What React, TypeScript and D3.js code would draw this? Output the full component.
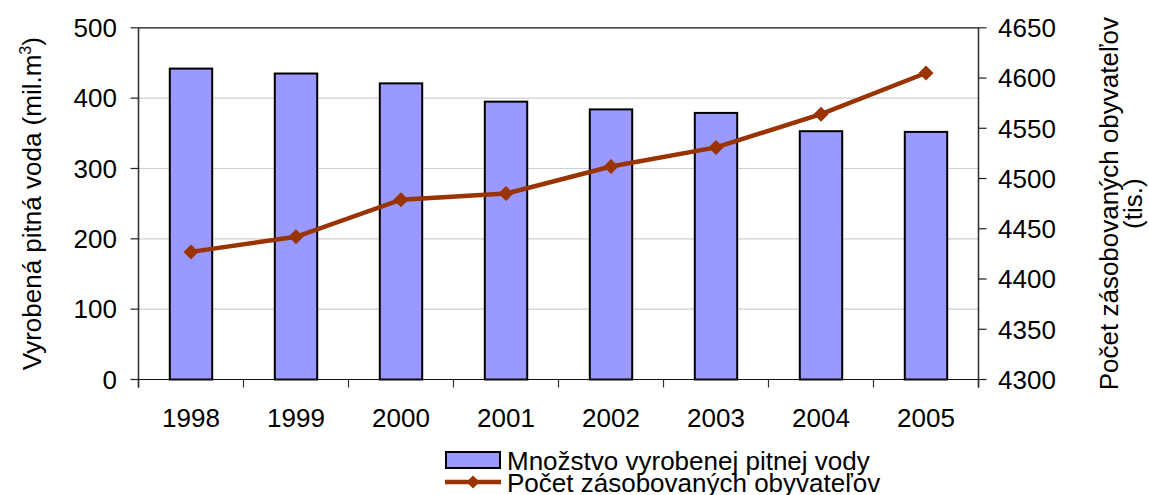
import React from "react";
import * as d3 from "d3";

const years = ["1998", "1999", "2000", "2001", "2002", "2003", "2004", "2005"];
const waterVolume = [442, 435, 421, 395, 384, 379, 353, 352];
const population = [4427, 4442, 4479, 4485, 4512, 4531, 4564, 4605];
const leftTicks = [0, 100, 200, 300, 400, 500];
const rightTicks = [4300, 4350, 4400, 4450, 4500, 4550, 4600, 4650];

const width = 1149;
const height = 495;
const font = "'Liberation Sans', Arial, sans-serif";
const fs = 26;

const plot = { left: 138.5, right: 978.5, top: 27.8, bottom: 379.5 };

const App = () => {
  const x = d3
    .scaleBand()
    .domain(years)
    .range([plot.left, plot.right])
    .paddingInner(0.596)
    .paddingOuter(0.298);
  const yLeft = d3.scaleLinear().domain([0, 500]).range([plot.bottom, plot.top]);
  const yRight = d3.scaleLinear().domain([4300, 4650]).range([plot.bottom, plot.top]);

  const cx = (d: string) => (x(d) as number) + x.bandwidth() / 2;

  const line = d3
    .line<number>()
    .x((d, i) => cx(years[i]))
    .y((d) => yRight(d));

  const diamond = (px: number, py: number, r = 7.5) =>
    `M${px},${py - r}L${px + r},${py}L${px},${py + r}L${px - r},${py}Z`;

  const step = x.step();
  const boundaries = d3.range(years.length + 1).map((i) => plot.left + i * step);
  const midY = (plot.top + plot.bottom) / 2;
  const digitMid = fs * 0.358;

  return (
    <svg
      width={width}
      height={height}
      style={{ position: "absolute", left: 0, top: 0, background: "#fff" }}
      fontFamily={font}
    >
      {/* gridlines */}
      {leftTicks.slice(1, -1).map((t) => (
        <line
          key={t}
          x1={plot.left}
          x2={plot.right}
          y1={yLeft(t)}
          y2={yLeft(t)}
          stroke="#cfcfcf"
          strokeWidth={1.2}
        />
      ))}
      <line x1={plot.left} x2={plot.right} y1={plot.top} y2={plot.top} stroke="#111" strokeWidth={1.2} />

      {/* bars */}
      {waterVolume.map((v, i) => (
        <rect
          key={years[i]}
          x={x(years[i])}
          y={yLeft(v)}
          width={x.bandwidth()}
          height={plot.bottom - yLeft(v)}
          fill="#9999FF"
          stroke="#000"
          strokeWidth={2}
        />
      ))}

      {/* axes */}
      <line x1={plot.left} x2={plot.left} y1={plot.top} y2={plot.bottom + 8} stroke="#333" strokeWidth={1.6} />
      <line x1={plot.right} x2={plot.right} y1={plot.top} y2={plot.bottom + 8} stroke="#333" strokeWidth={1.6} />
      <line x1={plot.left} x2={plot.right} y1={plot.bottom} y2={plot.bottom} stroke="#111" strokeWidth={1.2} />
      {boundaries.map((b, i) => (
        <line key={i} x1={b} x2={b} y1={plot.bottom} y2={plot.bottom + 8} stroke="#333" strokeWidth={1.2} />
      ))}
      {leftTicks.map((t) => (
        <g key={t}>
          <line x1={plot.left - 8} x2={plot.left} y1={yLeft(t)} y2={yLeft(t)} stroke="#222" strokeWidth={1.2} />
          <text x={117} y={yLeft(t) + digitMid} textAnchor="end" fontSize={fs} fill="#000">
            {t}
          </text>
        </g>
      ))}
      {rightTicks.map((t) => (
        <g key={t}>
          <line x1={plot.right} x2={plot.right + 8} y1={yRight(t)} y2={yRight(t)} stroke="#222" strokeWidth={1.2} />
          <text x={998} y={yRight(t) + digitMid} textAnchor="start" fontSize={fs} fill="#000">
            {t}
          </text>
        </g>
      ))}
      {years.map((yr) => (
        <text key={yr} x={cx(yr)} y={427} textAnchor="middle" fontSize={fs} fill="#000">
          {yr}
        </text>
      ))}

      {/* line series */}
      <path d={line(population) || ""} fill="none" stroke="#993300" strokeWidth={4.5} />
      {population.map((v, i) => (
        <path key={i} d={diamond(cx(years[i]), yRight(v))} fill="#993300" />
      ))}

      {/* axis titles */}
      <text transform={`translate(41,${midY}) rotate(-90)`} textAnchor="middle" fontSize={fs} fill="#000">
        Vyrobená pitná voda (mil.m
        <tspan dy={-10} fontSize={16}>
          3
        </tspan>
        <tspan dy={10}>)</tspan>
      </text>
      <text transform={`translate(1118,${midY}) rotate(-90)`} textAnchor="middle" fontSize={fs} fill="#000">
        Počet zásobovaných obyvateľov
      </text>
      <text transform={`translate(1142,${midY}) rotate(-90)`} textAnchor="middle" fontSize={fs} fill="#000">
        (tis.)
      </text>

      {/* legend */}
      <rect x={446} y={452} width={54} height={16} fill="#9999FF" stroke="#000" strokeWidth={2} />
      <text x={507} y={469.5} fontSize={fs} fill="#000">
        Množstvo vyrobenej pitnej vody
      </text>
      <line x1={445} x2={501} y1={482} y2={482} stroke="#993300" strokeWidth={4.5} />
      <path d={diamond(473, 482, 6.5)} fill="#993300" />
      <text x={507} y={492} fontSize={fs} fill="#000">
        Počet zásobovaných obyvateľov
      </text>
    </svg>
  );
};

export default App;
